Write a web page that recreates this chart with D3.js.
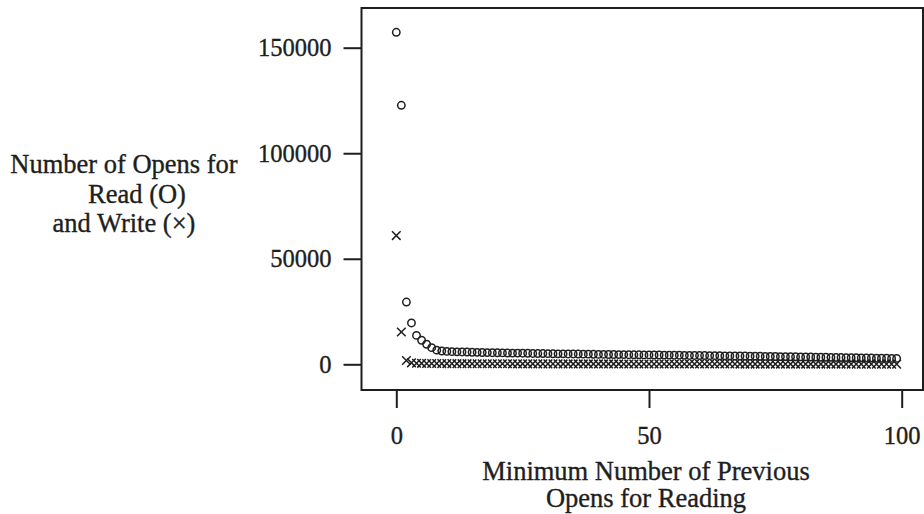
<!DOCTYPE html>
<html>
<head>
<meta charset="utf-8">
<script src="https://cdn.jsdelivr.net/npm/d3@7"></script>
<style>
  html, body { margin: 0; padding: 0; background: #fff; }
  svg { display: block; }
  text { font-family: "Liberation Serif", "Times New Roman", serif; fill: #1e1e1e; stroke: #1e1e1e; stroke-width: 0.35px; }
</style>
</head>
<body>
<svg id="chart" width="924" height="514"></svg>
<script>
// ---- data ----
const readOpens = [
  157300, 122700, 29500, 19600, 13700, 11400, 9500, 7900, 6700, 6300,
  6100, 6000, 5900, 5850, 5800, 5700, 5650, 5600, 5550, 5500,
  5450, 5400, 5350, 5300, 5300, 5250, 5200, 5150, 5100, 5100,
  5050, 5000, 4950, 4950, 4900, 4900, 4850, 4800, 4800, 4750,
  4700, 4700, 4650, 4650, 4600, 4600, 4550, 4500, 4500, 4450,
  4450, 4400, 4400, 4350, 4350, 4300, 4300, 4250, 4200, 4200,
  4150, 4150, 4100, 4100, 4050, 4000, 4000, 3950, 3950, 3900,
  3850, 3850, 3800, 3750, 3750, 3700, 3650, 3650, 3600, 3550,
  3500, 3500, 3450, 3400, 3350, 3350, 3300, 3250, 3200, 3150,
  3100, 3100, 3050, 3000, 2950, 2900, 2900, 2850, 2800, 2800
];
const writeOpens = [
  61000, 15300, 1800, 700, 500, 450, 400, 380, 360, 340,
  330, 320, 310, 300, 290, 280, 270, 265, 260, 255,
  250, 245, 240, 235, 230, 225, 220, 215, 210, 205,
  200, 198, 195, 192, 190, 187, 185, 182, 180, 178,
  175, 172, 170, 168, 165, 163, 160, 158, 156, 154,
  152, 150, 148, 146, 144, 142, 140, 138, 136, 135,
  133, 131, 130, 128, 126, 125, 123, 122, 120, 118,
  117, 115, 114, 112, 111, 110, 108, 107, 106, 104,
  103, 102, 100, 99, 98, 97, 96, 95, 94, 93,
  92, 91, 90, 89, 88, 87, 86, 85, 84, 83
];
const minPrevOpens = d3.range(readOpens.length); // 0 .. 99
const xTicks = [0, 50, 100];
const yTicks = [0, 50000, 100000, 150000];
const yTitle = ["Number of Opens for", "Read (O)", "and Write (\u00D7)"];
const xTitle = ["Minimum Number of Previous", "Opens for Reading"];

// ---- layout ----
const svg = d3.select("#chart");
const ink = "#1e1e1e";
const box = { left: 361.5, right: 923, top: 8, bottom: 390 };

const x = d3.scaleLinear().domain([0, 100]).range([396.3, 901.7]);
const y = d3.scaleLinear().domain([0, 150000]).range([364.3, 47.7]);

// frame
svg.append("rect")
  .attr("x", box.left).attr("y", box.top)
  .attr("width", box.right - box.left).attr("height", box.bottom - box.top)
  .attr("fill", "none").attr("stroke", ink).attr("stroke-width", 2);

// axes
const yAxis = svg.append("g")
  .attr("transform", `translate(${box.left},0)`)
  .call(d3.axisLeft(y).tickValues(yTicks).tickFormat(d3.format("d"))
        .tickSize(18).tickPadding(12));
const xAxis = svg.append("g")
  .attr("transform", `translate(0,${box.bottom})`)
  .call(d3.axisBottom(x).tickValues(xTicks).tickFormat(d3.format("d"))
        .tickSize(18).tickPadding(19));
[xAxis, yAxis].forEach(g => {
  g.select(".domain").remove();
  g.selectAll(".tick line").attr("stroke", ink).attr("stroke-width", 2);
  g.selectAll(".tick text")
    .attr("font-size", 24.5).attr("fill", ink);
});

// read points: circles
svg.append("g").selectAll("circle")
  .data(minPrevOpens)
  .join("circle")
  .attr("cx", i => x(i))
  .attr("cy", i => y(readOpens[i]))
  .attr("r", 3.7)
  .attr("fill", "none")
  .attr("stroke", ink)
  .attr("stroke-width", 1.5);

// write points: crosses
const c = 4.3;
svg.append("g").selectAll("path")
  .data(minPrevOpens)
  .join("path")
  .attr("d", i => {
    const cx = x(i), cy = y(writeOpens[i]);
    return `M${cx - c},${cy - c}L${cx + c},${cy + c}M${cx - c},${cy + c}L${cx + c},${cy - c}`;
  })
  .attr("fill", "none")
  .attr("stroke", ink)
  .attr("stroke-width", 1.5);

// y title (three lines)
const yTitlePos = [[124, 173], [137, 203], [124, 232]];
svg.append("g").selectAll("text")
  .data(yTitle)
  .join("text")
  .attr("x", (d, i) => yTitlePos[i][0])
  .attr("y", (d, i) => yTitlePos[i][1])
  .attr("text-anchor", "middle")
  .attr("font-size", 26.5)
  .text(d => d);

// x title (two lines)
const xTitleY = [480, 507];
svg.append("g").selectAll("text")
  .data(xTitle)
  .join("text")
  .attr("x", 646)
  .attr("y", (d, i) => xTitleY[i])
  .attr("text-anchor", "middle")
  .attr("font-size", 26.5)
  .text(d => d);
</script>
</body>
</html>
